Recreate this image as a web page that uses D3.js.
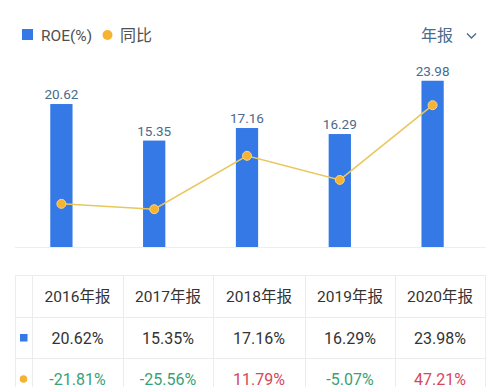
<!DOCTYPE html>
<html><head><meta charset="utf-8">
<script src="https://cdn.jsdelivr.net/npm/d3@7"></script>
<style>
html,body{margin:0;padding:0;background:#fff;}
svg{display:block;font-family:Roboto,"Noto Sans CJK SC",sans-serif;}
</style></head>
<body>
<svg id="chart" width="500" height="387"></svg>
<script>
const categories = ["2016年报","2017年报","2018年报","2019年报","2020年报"];
const roeValues = [20.62, 15.35, 17.16, 16.29, 23.98];
const yoyValues = [-21.81, -25.56, 11.79, -5.07, 47.21];
const legendLabels = ["ROE(%)", "同比"];
const periodLabel = "年报";

const svg = d3.select("#chart");
const BLUE = "#3479e6", ORANGE = "#f5b331", LINE = "#e9c75a";
const GREEN = "#3a9f78", RED = "#d6475a";

const x = d3.scaleBand().domain(categories).range([15, 479]).paddingInner(0.76).paddingOuter(0.38);
const yBar = d3.scaleLinear().domain([0, 30]).range([247, 39]);
const yLine = d3.scaleLinear().domain([-52, 93.5]).range([247, 39]);

// legend
svg.append("rect").attr("x",22).attr("y",29).attr("width",11).attr("height",11).attr("fill",BLUE);
svg.append("text").attr("x",41).attr("y",41).attr("font-size",15.5).attr("fill","#505050").text(legendLabels[0]);
svg.append("circle").attr("cx",107.5).attr("cy",35).attr("r",5).attr("fill",ORANGE);
svg.append("text").attr("x",120).attr("y",41).attr("font-size",16).attr("fill","#505050").attr("font-family","'Noto Sans CJK SC'").text(legendLabels[1]);

// period selector
svg.append("text").attr("x",421).attr("y",41).attr("font-size",16).attr("fill","#4a6b8c").attr("font-family","'Noto Sans CJK SC'").text(periodLabel);
svg.append("path").attr("d","M467,33.5 L471.5,38 L476,33.5").attr("fill","none").attr("stroke","#4a6b8c").attr("stroke-width",1.4);

// baseline
svg.append("line").attr("x1",15).attr("x2",486).attr("y1",247.5).attr("y2",247.5).attr("stroke","#eeeeee");

// bars
svg.selectAll("rect.bar").data(roeValues).enter().append("rect").attr("class","bar")
  .attr("x",(d,i)=>x(categories[i])).attr("width",x.bandwidth())
  .attr("y",d=>yBar(d)).attr("height",d=>yBar(0)-yBar(d)).attr("fill",BLUE);
svg.selectAll("text.blabel").data(roeValues).enter().append("text").attr("class","blabel")
  .attr("x",(d,i)=>x(categories[i])+x.bandwidth()/2).attr("y",d=>yBar(d)-5)
  .attr("text-anchor","middle").attr("font-size",13.5).attr("fill","#4a6a8c").text(d=>d.toFixed(2));

// line
const line = d3.line().x((d,i)=>x(categories[i])+x.bandwidth()/2).y(d=>yLine(d));
svg.append("path").datum(yoyValues).attr("d",line).attr("fill","none").attr("stroke",LINE).attr("stroke-width",1.5);
svg.selectAll("circle.pt").data(yoyValues).enter().append("circle").attr("class","pt")
  .attr("cx",(d,i)=>x(categories[i])+x.bandwidth()/2).attr("cy",d=>yLine(d)).attr("r",4.5)
  .attr("fill",ORANGE).attr("stroke","#fbd48a").attr("stroke-width",1);

// table
const colX = [15, 32, 123, 213, 305, 395, 485];
const rowY = [275, 317, 358, 400];
const g = svg.append("g");
rowY.forEach(yv=>g.append("line").attr("x1",15).attr("x2",485).attr("y1",yv+0.5).attr("y2",yv+0.5).attr("stroke","#ececec"));
colX.forEach(xv=>g.append("line").attr("x1",xv+0.5).attr("x2",xv+0.5).attr("y1",275).attr("y2",400).attr("stroke","#ececec"));
const cx = i => (colX[i+1]+colX[i+2])/2;
categories.forEach((c,i)=>g.append("text").attr("x",cx(i)).attr("y",302).attr("text-anchor","middle")
  .attr("font-size",15.5).attr("fill","#333").text(c));
roeValues.forEach((v,i)=>g.append("text").attr("x",cx(i)).attr("y",344).attr("text-anchor","middle")
  .attr("font-size",16).attr("fill","#333").text(v.toFixed(2)+"%"));
yoyValues.forEach((v,i)=>g.append("text").attr("x",cx(i)).attr("y",384.5).attr("text-anchor","middle")
  .attr("font-size",16).attr("fill",v<0?GREEN:RED).text(v.toFixed(2)+"%"));
g.append("rect").attr("x",20).attr("y",334).attr("width",7.5).attr("height",7.5).attr("fill",BLUE);
g.append("circle").attr("cx",23.5).attr("cy",379).attr("r",3.8).attr("fill",ORANGE);
</script>
</body></html>
